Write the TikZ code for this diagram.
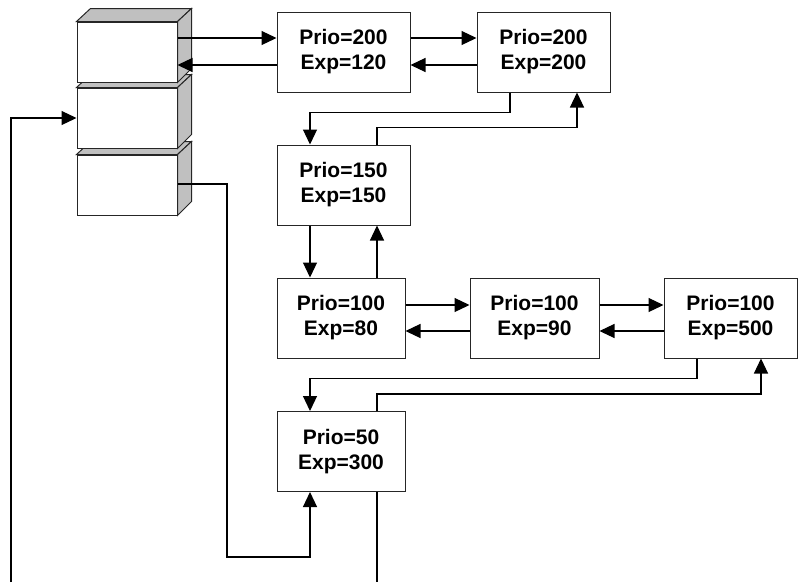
\documentclass[tikz,border=0pt]{standalone}
\usepackage{fontspec}
\newfontfamily\arialfont{Liberation Sans}
\usepackage{tikz}
\usetikzlibrary{arrows.meta,positioning,calc}

\definecolor{sidegray}{HTML}{C0C0C0}

\begin{document}
\begin{tikzpicture}[
            x=1pt, y=-1pt,
            font=\arialfont\bfseries\fontsize{21}{25}\selectfont,
            prio/.style={draw=black!85, line width=1pt, fill=white,
            inner sep=0pt, align=center, minimum height=80pt, minimum width=133pt},
            slot/.style={draw=black!85, line width=1pt, fill=white,
            inner sep=0pt, minimum width=100pt, minimum height=60pt},
            face/.style={draw=black!85, line width=1pt, fill=sidegray},
            ln/.style={line width=1.2pt},
            ar/.style={-{Triangle[length=15pt,width=14pt]}, line width=1.2pt}
        ]
            \useasboundingbox (0,0) rectangle (798,582);

% Bucket stack (drawn bottom first so upper blocks cover lower tops)
            \foreach \name/\cy in {blk3/185, blk2/118, blk1/52} {
                \node[slot] (\name) at (127,\cy) {};
                \draw[face] (\name.north west) -- ++(14,-13) -- ++(100,0)
                    -- ($(\name.north east)+(14,-13)$) -- (\name.north east) -- cycle;
                \draw[face] (\name.north east) -- ++(14,-13) -- ++(0,60)
                    -- (\name.south east) -- cycle;
            }

% Priority entries
            \node[prio]                         (a1) at (343.5,52)  {Prio=200\\Exp=120};
            \node[prio]                         (a2) at (543.5,52)  {Prio=200\\Exp=200};
            \node[prio]                         (b)  at (343.5,185) {Prio=150\\Exp=150};
            \node[prio, minimum width=128pt]    (c1) at (341,318)   {Prio=100\\Exp=80};
            \node[prio, minimum width=129pt]    (c2) at (534.5,318) {Prio=100\\Exp=90};
            \node[prio]                         (c3) at (730.5,318) {Prio=100\\Exp=500};
            \node[prio, minimum width=128pt]    (d)  at (341,451.5) {Prio=50\\Exp=300};

            \coordinate (turn)  at (227,557);
            \coordinate (botL)  at (11,582);
            \coordinate (botR)  at (377,582);

% Top row links
            \draw[ar] (blk1.east |- 0,38) -- (a1.west |- 0,38);
            \draw[ar] (a1.west |- 0,65)   -- (blk1.east |- 0,65);
            \draw[ar] (a1.east |- 0,38)   -- (a2.west |- 0,38);
            \draw[ar] (a2.west |- 0,65)   -- (a1.east |- 0,65);

% Down to Prio=150 and back
            \draw[ar] (a2.south -| 510,0) -- ++(0,20) -| (b.north -| 310,0);
            \draw[ar] (b.north -| 377,0)  -- ++(0,-17) -| (a2.south -| 577,0);

% Prio=150 <-> Prio=100
            \draw[ar] (b.south -| 310,0)  -- (c1.north -| 310,0);
            \draw[ar] (c1.north -| 377,0) -- (b.south -| 377,0);

% Middle row links
            \draw[ar] (c1.east |- 0,305) -- (c2.west |- 0,305);
            \draw[ar] (c2.west |- 0,331) -- (c1.east |- 0,331);
            \draw[ar] (c2.east |- 0,305) -- (c3.west |- 0,305);
            \draw[ar] (c3.west |- 0,331) -- (c2.east |- 0,331);

% Down to Prio=50 and back
            \draw[ar] (c3.south -| 697,0) -- ++(0,20) -| (d.north -| 310,0);
            \draw[ar] (d.north -| 377,0)  -- ++(0,-17) -| (c3.south -| 761,0);

% Stack links
            \draw[ar] (blk3.east |- 0,184) -| (turn) -| (d.south -| 310,0);
            \draw[ar] (botL) |- (blk2.west);
            \draw[ln] (d.south -| botR) -- (botR);
        \end{tikzpicture}
\end{document}
